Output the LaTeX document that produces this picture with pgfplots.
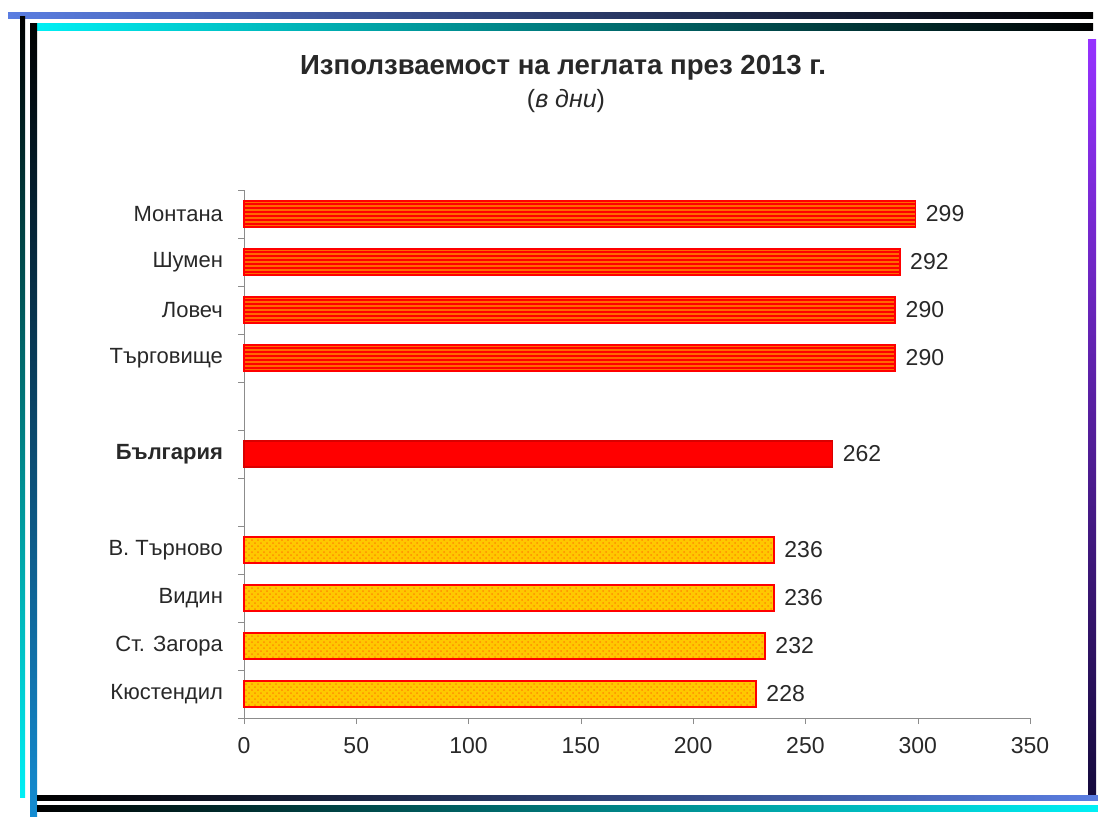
\documentclass[border=0pt]{standalone}
\usepackage{pgfplots}
\pgfplotsset{compat=1.18}
\usepackage{fontspec}
\setmainfont{Liberation Sans}
\usetikzlibrary{patterns,patterns.meta}
\definecolor{fblue}{RGB}{90,125,225}
\definecolor{fcyan}{RGB}{0,240,245}
\definecolor{fblue2}{RGB}{20,140,210}
\definecolor{fpurple}{RGB}{150,50,255}
\definecolor{fnavy}{RGB}{20,10,60}
\definecolor{topbar}{RGB}{255,105,0}
\definecolor{botbar}{RGB}{255,200,0}
\definecolor{dots}{RGB}{255,140,0}
\definecolor{txt}{RGB}{40,40,40}
\begin{document}
\begin{tikzpicture}[x=0.5pt,y=0.5pt]
\path[use as bounding box] (0,0) rectangle (1098,816);
% decorative frame
\shade[left color=fblue, right color=black] (8,797) rectangle (1093,803);
\shade[left color=fcyan, right color=black] (33,785) rectangle (1093,792);
\shade[top color=black, bottom color=fcyan] (20,19) rectangle (25,799);
\shade[top color=black, bottom color=fblue2] (30,0) rectangle (37,792);
\shade[top color=fpurple, bottom color=fnavy] (1088,16) rectangle (1096,776);
\shade[left color=black, right color=fblue] (37,16) rectangle (1098,21);
\shade[left color=black, right color=fcyan] (37,5) rectangle (1098,11);
% titles
\node[font=\bfseries\fontsize{13.8}{15}\selectfont, text=txt] at (563,748) {Използваемост на леглата през 2013 г.};
\node[font=\fontsize{12.5}{14}\selectfont, text=txt] at (566,715) {(\textit{в дни})};
\begin{axis}[
  at={(122pt,49pt)}, anchor=south west,
  scale only axis, width=393pt, height=264pt,
  xmin=0, xmax=350, ymin=-0.5, ymax=10.5,
  axis x line=bottom, axis y line=left,
  axis line style={-, draw=black!45},
  tick style={draw=black!45},
  tick align=outside, major tick length=3pt,
  xtick={0,50,...,350},
  ytick={-0.5,0.5,...,10.5}, yticklabels={},
  extra y ticks={0,1,2,3,5,7,8,9,10},
  extra y tick labels={Кюстендил,Ст. Загора,Видин,В. Търново,\textbf{България},Търговище,Ловеч,Шумен,Монтана},
  extra y tick style={tick style={draw=none}},
  yticklabel style={font=\fontsize{11}{13}\selectfont, text=txt, xshift=-4pt},
  xticklabel style={font=\fontsize{11.5}{13}\selectfont, text=txt, yshift=-3pt},
  /pgf/number format/assume math mode=true,
  xbar, bar width=13pt, bar shift=0pt,
  nodes near coords,
  nodes near coords align={horizontal},
  every node near coord/.append style={font=\fontsize{11.5}{13}\selectfont, text=txt, anchor=west, xshift=1.5pt},
  clip=false,
]
\addplot[xbar, draw=red, line width=0.8pt, fill=topbar,
  postaction={pattern={Lines[angle=0,distance=2pt,line width=0.6pt]}, pattern color=red}]
  coordinates {(290,7) (290,8) (292,9) (299,10)};
\addplot[xbar, draw=red!85!black, line width=0.8pt, fill=red]
  coordinates {(262,5)};
\addplot[xbar, draw=red, line width=0.8pt, fill=botbar,
  postaction={pattern=crosshatch dots, pattern color=dots}]
  coordinates {(228,0) (232,1) (236,2) (236,3)};
\end{axis}
\end{tikzpicture}
\end{document}
